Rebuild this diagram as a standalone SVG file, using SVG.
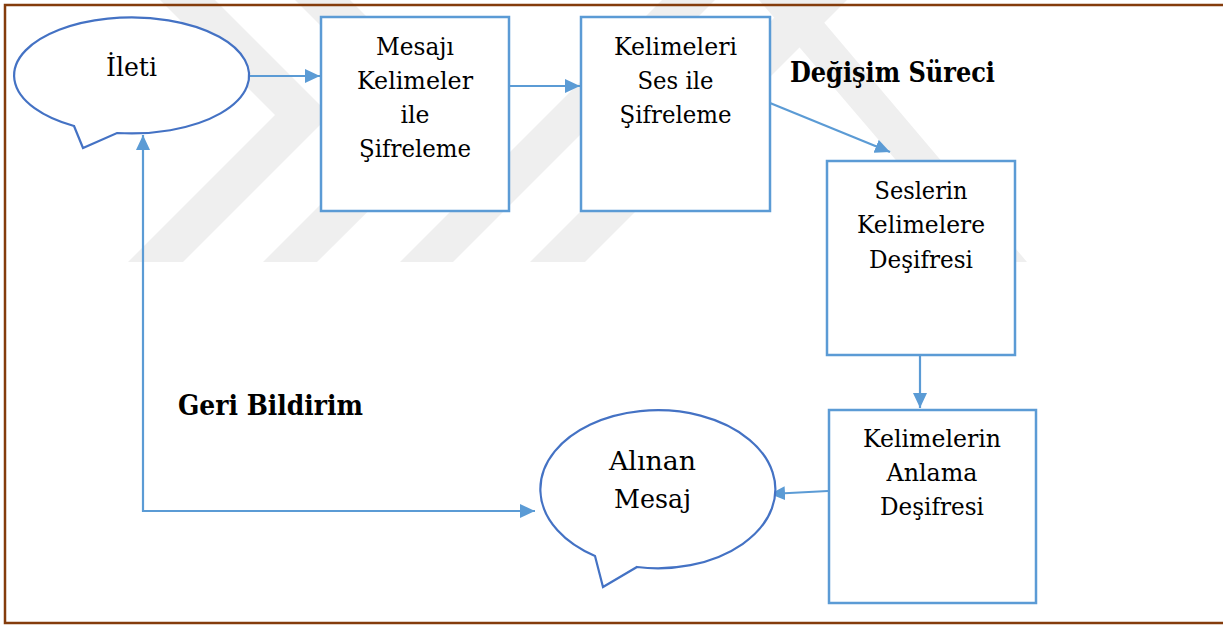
<svg xmlns="http://www.w3.org/2000/svg" width="1223" height="625" viewBox="0 0 1223 625">
  <style>
    .box { fill: #ffffff; stroke: #5B9BD5; stroke-width: 2.5; }
    .bubble { fill: #ffffff; stroke: #4472C4; stroke-width: 2.2; stroke-linejoin: miter; }
    text { font-family: 'DejaVu Serif', 'Liberation Serif', serif; fill: #000000; text-anchor: middle; }
    .lbl { font-size: 25px; }
    .lbl-big { font-size: 25.5px; }
    .title { font-size: 28px; font-weight: bold; }
    .conn { fill: none; stroke: #5B9BD5; stroke-width: 2.2; }
    .wm { fill: #efefef; }
  </style>
  <defs>
    <marker id="arrow" viewBox="0 0 15 14" refX="15" refY="7" markerWidth="15" markerHeight="14" markerUnits="userSpaceOnUse" orient="auto-start-reverse">
      <path d="M0,0 L15,7 L0,14 Z" fill="#5B9BD5"/>
    </marker>
  </defs>

  <!-- page background -->
  <rect x="0" y="0" width="1223" height="625" fill="#ffffff"/>

  <!-- faint background chevron pattern -->
  <g id="watermark">
    <polygon class="wm" points="160,0 215,0 330,115 183,262 128,262 275,115"/>
    <polygon class="wm" points="295,0 350,0 465,115 317,262 263,262 410,115"/>
    <polygon class="wm" points="400,262 453,262 715,0 662,0"/>
    <polygon class="wm" points="530,262 585,262 847,0 792,0"/>
    <polygon class="wm" points="759,0 805,0 1027,262 983,262"/>
  </g>

  <!-- frame -->
  <path d="M1223,5 H5 V623 H1223" fill="none" stroke="#843C0C" stroke-width="2.5"/>

  <!-- connectors -->
  <g id="connectors">
    <line class="conn" x1="249" y1="76" x2="320" y2="76" marker-end="url(#arrow)"/>
    <line class="conn" x1="509" y1="86" x2="580" y2="86" marker-end="url(#arrow)"/>
    <line class="conn" x1="770" y1="103" x2="890" y2="152" marker-end="url(#arrow)"/>
    <line class="conn" x1="920" y1="355" x2="920" y2="408" marker-end="url(#arrow)"/>
    <line class="conn" x1="828" y1="491" x2="770" y2="494" marker-end="url(#arrow)"/>
    <polyline class="conn" points="143,135 143,511 535,511" marker-start="url(#arrow)" marker-end="url(#arrow)"/>
  </g>

  <!-- sender bubble -->
  <g id="node-ileti">
    <path class="bubble" d="M74,126 A117.5,58 0 1 1 117,133 L83,148 Z"/>
    <text class="lbl-big" x="131.5" y="76" textLength="51" lengthAdjust="spacingAndGlyphs">İleti</text>
  </g>

  <g id="node-kodlama">
    <rect class="box" x="321" y="17" width="188" height="194"/>
    <text class="lbl" x="415" y="55" textLength="78" lengthAdjust="spacingAndGlyphs">Mesajı</text>
    <text class="lbl" x="415" y="89" textLength="116" lengthAdjust="spacingAndGlyphs">Kelimeler</text>
    <text class="lbl" x="415" y="123" textLength="29" lengthAdjust="spacingAndGlyphs">ile</text>
    <text class="lbl" x="415" y="157" textLength="112" lengthAdjust="spacingAndGlyphs">Şifreleme</text>
  </g>

  <g id="node-ses">
    <rect class="box" x="581" y="17" width="189" height="194"/>
    <text class="lbl" x="675.5" y="55" textLength="123" lengthAdjust="spacingAndGlyphs">Kelimeleri</text>
    <text class="lbl" x="675.5" y="89" textLength="76" lengthAdjust="spacingAndGlyphs">Ses ile</text>
    <text class="lbl" x="675.5" y="123" textLength="112" lengthAdjust="spacingAndGlyphs">Şifreleme</text>
  </g>

  <g id="node-seslerin">
    <rect class="box" x="827" y="161" width="188" height="194"/>
    <text class="lbl" x="921" y="199" textLength="93" lengthAdjust="spacingAndGlyphs">Seslerin</text>
    <text class="lbl" x="921" y="233" textLength="128" lengthAdjust="spacingAndGlyphs">Kelimelere</text>
    <text class="lbl" x="921" y="268" textLength="104" lengthAdjust="spacingAndGlyphs">Deşifresi</text>
  </g>

  <g id="node-anlam">
    <rect class="box" x="829" y="410" width="207" height="193"/>
    <text class="lbl" x="932" y="447" textLength="138" lengthAdjust="spacingAndGlyphs">Kelimelerin</text>
    <text class="lbl" x="932" y="481" textLength="91" lengthAdjust="spacingAndGlyphs">Anlama</text>
    <text class="lbl" x="932" y="515" textLength="104" lengthAdjust="spacingAndGlyphs">Deşifresi</text>
  </g>

  <!-- receiver bubble -->
  <g id="node-alinan">
    <path class="bubble" d="M595,556 A117.5,79 0 1 1 637,567 L603,587 Z"/>
    <text class="lbl-big" x="652.5" y="470" textLength="87" lengthAdjust="spacingAndGlyphs">Alınan</text>
    <text class="lbl-big" x="652.5" y="508" textLength="77" lengthAdjust="spacingAndGlyphs">Mesaj</text>
  </g>

  <g id="label-degisim">
    <text class="title" x="892.5" y="82" textLength="205" lengthAdjust="spacingAndGlyphs">Değişim Süreci</text>
  </g>
  <g id="label-geri">
    <text class="title" x="270.5" y="415" textLength="185" lengthAdjust="spacingAndGlyphs">Geri Bildirim</text>
  </g>
</svg>
